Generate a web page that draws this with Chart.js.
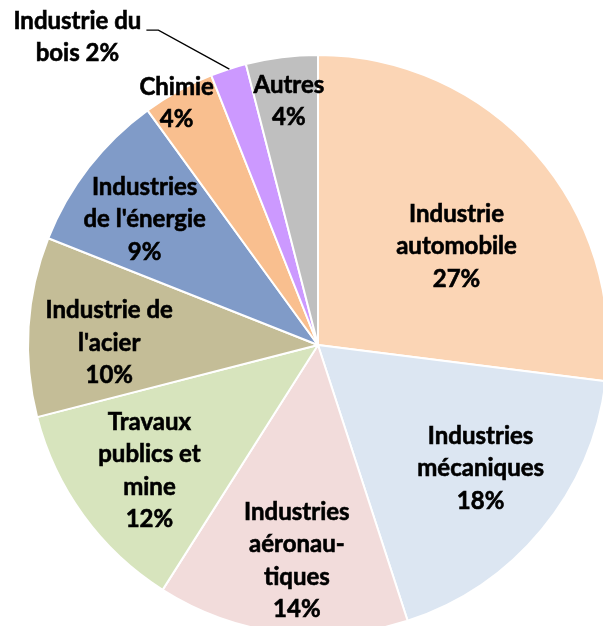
<!DOCTYPE html>
<html>
<head>
<meta charset="utf-8">
<script src="https://cdn.jsdelivr.net/npm/chart.js@4/dist/chart.umd.min.js"></script>
<style>
  html, body { margin: 0; padding: 0; background: #fff; overflow: hidden; }
  #wrap { position: absolute; left: 0; top: 0; width: 700px; height: 700px; }
</style>
</head>
<body>
<div id="wrap"><canvas id="canvas" width="700" height="700"></canvas></div>
<script>
// data (percent of total)
var categories = ['Industrie automobile', 'Industries mécaniques', 'Industries aéronautiques',
    'Travaux publics et mine', "Industrie de l'acier", "Industries de l'énergie",
    'Chimie', 'Industrie du bois', 'Autres'];
var shares = [27, 18, 14, 12, 10, 9, 4, 2, 4];
// how each label is wrapped in the picture
var labelLines = [
    ['Industrie', 'automobile'],
    ['Industries', 'mécaniques'],
    ['Industries', 'aéronau-', 'tiques'],
    ['Travaux', 'publics et', 'mine'],
    ['Industrie de', "l'acier"],
    ['Industries', "de l'énergie"],
    ['Chimie'],
    ['Industrie du', 'bois'],
    ['Autres']
];
var colors = ['#FBD5B5', '#DCE6F2', '#F2DCDB', '#D7E4BD', '#C4BD97', '#809BC8', '#F9BF8F', '#CC99FF', '#BFBFBF'];

// label placement: fraction of radius and angle shift (deg) from slice middle
var labelRadius = [0.586, 0.704, 0.747, 0.725, 0.72, 0.738, 0.966, null, 0.847];
var labelShift = [6.0, -2.4, -1.6, -0.7, -3.0, -1.9, -1.5, 0, 0.4];

var pieLabels = {
    id: 'pieLabels',
    afterDatasetsDraw: function(chart) {
        var ctx = chart.ctx;
        var meta = chart.getDatasetMeta(0);
        var lh = 32.5;
        ctx.save();
        ctx.font = 'bold 24px Lato';
        ctx.fillStyle = '#000';
        ctx.strokeStyle = '#000';
        ctx.textAlign = 'center';
        ctx.textBaseline = 'middle';
        meta.data.forEach(function(arc, i) {
            var lines = labelLines[i].slice();
            var pct = shares[i] + '%';
            var mid = (arc.startAngle + arc.endAngle) / 2;
            var r = arc.outerRadius;
            var x, y;
            if (labelRadius[i] === null) {
                // outside label with leader line
                var ex = arc.x + Math.cos(mid) * r;
                var ey = arc.y + Math.sin(mid) * r;
                lines[lines.length - 1] += ' ' + pct;
                x = ex - 151;
                y = ey - 32;
                ctx.beginPath();
                ctx.lineWidth = 1.3;
                ctx.moveTo(ex + 1, ey);
                ctx.lineTo(ex - 70, ey - 39);
                ctx.lineTo(ex - 82, ey - 39);
                ctx.stroke();
            } else {
                lines.push(pct);
                var a = mid + labelShift[i] * Math.PI / 180;
                x = arc.x + Math.cos(a) * r * labelRadius[i];
                y = arc.y + Math.sin(a) * r * labelRadius[i];
            }
            var y0 = y - (lines.length - 1) * lh / 2;
            ctx.lineWidth = 0.6;
            lines.forEach(function(t, k) {
                ctx.fillText(t, x, y0 + k * lh);
                ctx.strokeText(t, x, y0 + k * lh);
            });
        });
        ctx.restore();
    }
};

var ctx = document.getElementById('canvas').getContext('2d');
var config = {
    type: 'pie',
    data: {
        labels: categories,
        datasets: [{
            data: shares,
            backgroundColor: colors,
            borderColor: '#ffffff',
            borderWidth: 2
        }]
    },
    options: {
        responsive: false,
        animation: false,
        layout: { padding: { left: 27, top: 54, right: 91, bottom: 64 } },
        plugins: {
            legend: { display: false },
            tooltip: { enabled: false }
        }
    },
    plugins: [pieLabels]
};

var chart = new Chart(ctx, config);
</script>
</body>
</html>
